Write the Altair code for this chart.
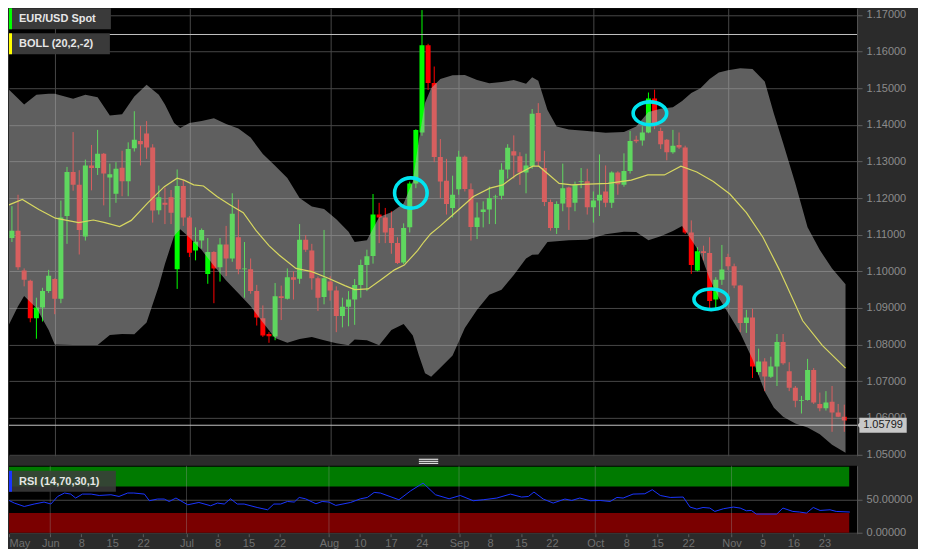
import altair as alt
import pandas as pd

# ---------------- data (daily candles, index k: 0 = 20 May 2015 ... 137 = 27 Nov 2015)
opens = [1.1151, 1.1091, 1.1111, 1.1002, 1.0974, 1.0872, 1.0901, 1.0946, 1.0979, 1.0925,
         1.1151, 1.1271, 1.1236, 1.1095, 1.1289, 1.1282, 1.1321, 1.1256, 1.1212, 1.1283,
         1.1246, 1.1336, 1.1356, 1.1376, 1.1338, 1.1167, 1.1187, 1.1202, 1.1006, 1.1233,
         1.1147, 1.1057, 1.1084, 1.0993, 1.1053, 1.1011, 1.1073, 1.1035, 1.1093, 1.1006,
         1.1006, 1.0946, 1.0872, 1.0829, 1.0822, 1.0932, 1.0925, 1.0984, 1.0980, 1.1086,
         1.1057, 1.0981, 1.0930, 1.0972, 1.0948, 1.0878, 1.0903, 1.0923, 1.0963, 1.1017,
         1.1042, 1.1155, 1.1147, 1.1118, 1.1077, 1.1024, 1.1120, 1.1240, 1.1379, 1.1617,
         1.1514, 1.1312, 1.1247, 1.1173, 1.1224, 1.1313, 1.1224, 1.1121, 1.1162, 1.1169,
         1.1202, 1.1206, 1.1278, 1.1328, 1.1314, 1.1270, 1.1287, 1.1432, 1.1282, 1.1189,
         1.1118, 1.1185, 1.1229, 1.1187, 1.1244, 1.1246, 1.1175, 1.1193, 1.1218, 1.1187,
         1.1270, 1.1236, 1.1274, 1.1359, 1.1357, 1.1379, 1.1472, 1.1383, 1.1359, 1.1325,
         1.1345, 1.1338, 1.1106, 1.1002, 1.1055, 1.1050, 1.0923, 1.0977, 1.1039, 1.1014,
         1.0961, 1.0859, 1.0874, 1.0725, 1.0754, 1.0712, 1.0740, 1.0807, 1.0727, 1.0682,
         1.0647, 1.0649, 1.0731, 1.0638, 1.0626, 1.0644, 1.0615, 1.0603]
highs = [1.1155, 1.1178, 1.1209, 1.1008, 1.0977, 1.0928, 1.0955, 1.1004, 1.0981, 1.1193,
         1.1285, 1.1380, 1.1276, 1.1305, 1.1345, 1.1386, 1.1323, 1.1294, 1.1298, 1.1329,
         1.1352, 1.1437, 1.1397, 1.1410, 1.1347, 1.1234, 1.1229, 1.1222, 1.1278, 1.1249,
         1.1151, 1.1120, 1.1117, 1.1091, 1.1055, 1.1091, 1.1124, 1.1213, 1.1196, 1.1080,
         1.1035, 1.0963, 1.0907, 1.0834, 1.0968, 1.0961, 1.1008, 1.1000, 1.1129, 1.1099,
         1.1075, 1.0986, 1.1113, 1.0987, 1.0959, 1.0928, 1.0946, 1.0979, 1.1032, 1.1059,
         1.1211, 1.1187, 1.1173, 1.1164, 1.1093, 1.1131, 1.1245, 1.1388, 1.1713, 1.1621,
         1.1559, 1.1361, 1.1307, 1.1261, 1.1329, 1.1316, 1.1240, 1.1188, 1.1191, 1.1231,
         1.1209, 1.1295, 1.1347, 1.1371, 1.1325, 1.1321, 1.1443, 1.1459, 1.1329, 1.1196,
         1.1191, 1.1294, 1.1231, 1.1245, 1.1282, 1.1280, 1.1218, 1.1319, 1.1289, 1.1273,
         1.1273, 1.1322, 1.1383, 1.1370, 1.1396, 1.1488, 1.1496, 1.1392, 1.1361, 1.1386,
         1.1379, 1.1343, 1.1139, 1.1066, 1.1070, 1.1093, 1.0984, 1.1072, 1.1048, 1.1021,
         1.0963, 1.0895, 1.0898, 1.0789, 1.0763, 1.0767, 1.0829, 1.0829, 1.0752, 1.0687,
         1.0660, 1.0761, 1.0736, 1.0669, 1.0673, 1.0687, 1.0638, 1.0636]
lows = [1.1057, 1.1080, 1.1004, 1.0959, 1.0861, 1.0816, 1.0863, 1.0941, 1.0883, 1.0913,
        1.1075, 1.1220, 1.1046, 1.1084, 1.1221, 1.1263, 1.1180, 1.1148, 1.1187, 1.1205,
        1.1205, 1.1327, 1.1289, 1.1307, 1.1133, 1.1155, 1.1129, 1.1129, 1.0952, 1.1124,
        1.1039, 1.1030, 1.1062, 1.0966, 1.0913, 1.0972, 1.0987, 1.1026, 1.0992, 1.0928,
        1.0939, 1.0852, 1.0821, 1.0805, 1.0812, 1.0867, 1.0923, 1.0923, 1.0966, 1.1053,
        1.0950, 1.0892, 1.0910, 1.0920, 1.0834, 1.0847, 1.0850, 1.0854, 1.0928, 1.0946,
        1.1021, 1.1077, 1.1077, 1.1048, 1.1020, 1.1020, 1.1106, 1.1227, 1.1370, 1.1495,
        1.1298, 1.1200, 1.1155, 1.1147, 1.1209, 1.1218, 1.1084, 1.1088, 1.1120, 1.1129,
        1.1129, 1.1196, 1.1253, 1.1253, 1.1236, 1.1213, 1.1280, 1.1285, 1.1178, 1.1111,
        1.1102, 1.1164, 1.1113, 1.1164, 1.1227, 1.1155, 1.1133, 1.1151, 1.1175, 1.1173,
        1.1209, 1.1231, 1.1267, 1.1350, 1.1343, 1.1377, 1.1388, 1.1334, 1.1303, 1.1321,
        1.1334, 1.1102, 1.0993, 1.1000, 1.1030, 1.0898, 1.0898, 1.0963, 1.1004, 1.0954,
        1.0834, 1.0832, 1.0709, 1.0718, 1.0673, 1.0709, 1.0687, 1.0745, 1.0673, 1.0629,
        1.0612, 1.0647, 1.0638, 1.0618, 1.0620, 1.0562, 1.0602, 1.0562]
closes = [1.1062, 1.1111, 1.1011, 1.0977, 1.0872, 1.0901, 1.0946, 1.0988, 1.0925, 1.1147,
          1.1271, 1.1236, 1.1113, 1.1289, 1.1282, 1.1321, 1.1267, 1.1265, 1.1280, 1.1246,
          1.1334, 1.1359, 1.1347, 1.1338, 1.1166, 1.1202, 1.1182, 1.1160, 1.1233, 1.1147,
          1.1051, 1.1081, 1.1113, 1.1053, 1.1008, 1.1073, 1.1035, 1.1157, 1.1006, 1.1008,
          1.0946, 1.0874, 1.0825, 1.0823, 1.0932, 1.0927, 1.0984, 1.0977, 1.1086, 1.1059,
          1.0981, 1.0928, 1.0981, 1.0948, 1.0878, 1.0903, 1.0923, 1.0963, 1.1017, 1.1041,
          1.1155, 1.1147, 1.1106, 1.1077, 1.1023, 1.1118, 1.1240, 1.1386, 1.1617, 1.1514,
          1.1312, 1.1245, 1.1184, 1.1209, 1.1313, 1.1225, 1.1121, 1.1147, 1.1169, 1.1200,
          1.1204, 1.1277, 1.1337, 1.1316, 1.1270, 1.1289, 1.1430, 1.1300, 1.1189, 1.1118,
          1.1184, 1.1227, 1.1175, 1.1236, 1.1246, 1.1175, 1.1193, 1.1209, 1.1187, 1.1270,
          1.1238, 1.1274, 1.1356, 1.1355, 1.1379, 1.1472, 1.1396, 1.1347, 1.1325, 1.1343,
          1.1338, 1.1106, 1.1017, 1.1055, 1.1050, 1.0919, 1.0977, 1.1005, 1.1014, 1.0961,
          1.0859, 1.0874, 1.0740, 1.0754, 1.0713, 1.0740, 1.0807, 1.0749, 1.0682, 1.0647,
          1.0649, 1.0731, 1.0642, 1.0626, 1.0642, 1.0615, 1.0603, 1.0593]

# Bollinger (20,2,-2)
band_k = [0, 2, 3, 5, 7, 8, 11, 13, 15, 17, 19, 21, 23, 25, 26, 27.5, 28.5, 30, 32, 34,
          36, 38, 40, 42, 44, 46, 48, 50, 52, 54, 56, 57, 59, 61, 63, 65, 66.5, 67.5, 68.5, 69.5,
          71, 73, 75, 77, 79, 81, 83, 85, 86, 87, 88.5, 90, 92, 95, 98, 101, 103, 105, 107, 109,
          110.5, 112, 113.5, 115, 116.5, 118, 120, 122, 124, 125.5, 127, 129, 131, 133, 135, 137.2]
band_upper = [1.1504, 1.1472, 1.1455, 1.1482, 1.1485, 1.1485, 1.1471, 1.1482, 1.1475, 1.1425,
              1.1429, 1.1477, 1.1509, 1.1482, 1.1455, 1.1405, 1.1391, 1.1405, 1.1410, 1.1418,
              1.1402, 1.1390, 1.1365, 1.1320, 1.1288, 1.1255, 1.1200, 1.1177, 1.1170, 1.1142,
              1.1108, 1.1080, 1.1085, 1.1148, 1.1161, 1.1185, 1.1245, 1.1360, 1.1460, 1.1500,
              1.1525, 1.1535, 1.1536, 1.1522, 1.1513, 1.1517, 1.1522, 1.1512, 1.1530, 1.1520,
              1.1440, 1.1395, 1.1387, 1.1383, 1.1378, 1.1380, 1.1395, 1.1435, 1.1444, 1.1448,
              1.1465, 1.1487, 1.1500, 1.1525, 1.1543, 1.1549, 1.1554, 1.1552, 1.1518, 1.1430,
              1.1350, 1.1240, 1.1120, 1.1058, 1.1008, 1.0965]
band_lower = [1.0837, 1.0905, 1.0933, 1.0900, 1.0840, 1.0800, 1.0799, 1.0799, 1.0799, 1.0826,
              1.0829, 1.0828, 1.0860, 1.0960, 1.1020, 1.1097, 1.1115, 1.1092, 1.1058, 1.1015,
              1.0975, 1.0940, 1.0905, 1.0860, 1.0818, 1.0805, 1.0815, 1.0821, 1.0812, 1.0804,
              1.0798, 1.0814, 1.0812, 1.0798, 1.0840, 1.0856, 1.0825, 1.0770, 1.0722, 1.0712,
              1.0737, 1.0770, 1.0845, 1.0895, 1.0936, 1.0950, 1.0990, 1.1035, 1.1045, 1.1046,
              1.1080, 1.1082, 1.1085, 1.1086, 1.1101, 1.1108, 1.1107, 1.1085, 1.1096, 1.1110,
              1.1124, 1.1086, 1.1048, 1.0980, 1.0928, 1.0887, 1.0832, 1.0760, 1.0672, 1.0628,
              1.0603, 1.0585, 1.0574, 1.0555, 1.0527, 1.0505]
mid_k = [0, 2.7, 5.4, 8.1, 11.9, 14.3, 16.2, 18.6, 20.5, 23.2, 25.9, 28, 29.1, 30.7, 32.3,
         34.5, 36.6, 38.8, 40.9, 43, 44.7, 47.4, 50, 52.7, 55.4, 57, 59.2, 61.3, 63.5, 65.1,
         67.3, 68.3, 69.4, 71, 73.7, 76.4, 79.1, 81.2, 83.4, 86.1, 87.1, 88.8, 90.4, 92.5, 95.2,
         98.4, 102.2, 104.9, 107.6, 110.3, 112.9, 115.6, 118.3, 121, 123.7, 126.4, 130.2, 133.4, 137.2]
mid_vals = [1.1178, 1.1196, 1.1169, 1.1145, 1.1133, 1.1140, 1.1133, 1.1122, 1.1139, 1.1187,
            1.1231, 1.1254, 1.1249, 1.1236, 1.1233, 1.1204, 1.1182, 1.1160, 1.1111, 1.1070,
            1.1044, 1.1008, 1.0999, 1.0981, 1.0961, 1.0950, 1.0952, 1.0977, 1.1004, 1.1017,
            1.1057, 1.1080, 1.1102, 1.1124, 1.1164, 1.1204, 1.1227, 1.1236, 1.1263, 1.1287,
            1.1287, 1.1263, 1.1240, 1.1236, 1.1238, 1.1240, 1.1249, 1.1263, 1.1263, 1.1287,
            1.1271, 1.1245, 1.1211, 1.1160, 1.1093, 1.1004, 1.0865, 1.0798, 1.0736]

# RSI (14,70,30,1)
rsi_k = [0, 1.1, 2.2, 3.8, 5.4, 7, 8.1, 9.2, 10.3, 11.3, 12.1, 13.2, 14.6, 15.9, 17.8, 19.1,
         20.5, 21.5, 23.2, 24, 25.3, 26.4, 27.2, 28.3, 30.2, 32, 33.9, 35, 36.1, 37.1, 38.2,
         39.3, 41.4, 43.1, 44.1, 45.2, 46.3, 47.4, 48.2, 49.2, 50.9, 51.9, 53, 54.1, 56.5,
         58.1, 59.2, 60.3, 61.3, 64.3, 66.2, 68.2, 70.2, 72.4, 74.2, 76.3, 77.9, 80.1, 82.3,
         84.1, 85.2, 86.1, 87.6, 89.2, 91.1, 92.2, 93.5, 95.2, 96.8, 98.4, 99.5, 100.5, 102.1,
         104, 105.2, 106.5, 108.1, 110.2, 111.3, 112.4, 113.4, 114.5, 115.3, 116.7, 118.3,
         119.4, 120.4, 121.2, 122, 125.3, 126.3, 127.9, 129, 130.1, 131.2, 132.3, 133.9, 134.9, 137.1]
rsi_vals = [51.1, 50, 45, 39.8, 43.5, 46.5, 43.5, 55, 60.2, 58.6, 52.6, 58.6, 58.6, 56.5, 57.6, 55,
            60.2, 60.2, 58.6, 48.5, 51.1, 51.1, 47.4, 52.6, 42.4, 45.9, 40.9, 45, 43.5, 51.5, 43.5,
            43.5, 38.3, 34.8, 43.5, 43.5, 47.4, 46.5, 53.5, 51.5, 43.9, 47.4, 46.5, 41.4, 45.9,
            51.5, 53.5, 61.1, 60.2, 50, 63.6, 75.3, 57.6, 51.5, 56.5, 48.5, 50, 52.6, 58.6,
            54.1, 55, 61.7, 51.1, 45, 51.1, 48.9, 52.6, 48.5, 48.9, 47.4, 53.5, 52.6, 58.6,
            59.1, 65.2, 56.5, 53.5, 54.1, 38.9, 35.9, 38.3, 37.4, 32.3, 36.4, 38.9,
            37.4, 33.3, 33.8, 28.3, 28.3, 37.4, 32.3, 31.4, 29.8, 38.3, 33.8, 34.8, 32.3, 31.4]

# axis ticks
tick_k = [1.34, 8, 13, 18, 23, 30, 35, 40, 45, 53, 58, 63, 68, 74, 79, 84, 89,
          96, 101, 106, 111, 118, 123, 128, 133]
tick_labels = ["May", "Jun", "8", "15", "22", "Jul", "8", "15", "22", "Aug", "10", "17", "24",
               "Sep", "8", "15", "22", "Oct", "8", "15", "22", "Nov", "9", "16", "23"]
month_k = [8, 30, 53, 74, 96, 118]
price_ticks = [1.05, 1.06, 1.07, 1.08, 1.09, 1.10, 1.11, 1.12, 1.13, 1.14, 1.15, 1.16, 1.17]
rsi_ticks = [0, 50]

last_price = 1.05799
high_line = 1.16464
ell_k = [66.18, 105.24, 115.24]
ell_price = [1.12138, 1.14313, 1.09237]

# ---------------- styles
FONT = "Liberation Sans"
BG = "#2b2b2b"
GRID = "#474747"
TICK = "#5e5e5e"
YLABEL = "#8c8c8c"
XLABEL = "#707070"
GREEN, RED = "#00ff00", "#ff0000"
CYAN = "#00e5f0"

W, H_MAIN, H_RSI = 849, 448, 68
xs = alt.Scale(domain=[1.339, 138.27], nice=False, zero=False)
ys = alt.Scale(domain=[1.04965, 1.17179], nice=False, zero=False)
rs = alt.Scale(domain=[-1.5, 101.5], nice=False, zero=False)
dir_scale = alt.Scale(domain=["up", "down"], range=[GREEN, RED])


def ellipse_path(ratio):
    c = 0.5523
    r = ratio
    return (f"M1,0 C1,{c*r:.4f} {c:.4f},{r:.4f} 0,{r:.4f} "
            f"C{-c:.4f},{r:.4f} -1,{c*r:.4f} -1,0 "
            f"C-1,{-c*r:.4f} {-c:.4f},{-r:.4f} 0,{-r:.4f} "
            f"C{c:.4f},{-r:.4f} 1,{-c*r:.4f} 1,0 Z")


ell_rx = [16.3, 16.8, 17.2]
ell_ratio = [0.93, 0.68, 0.60]

candles = pd.DataFrame({"k": list(range(len(opens))), "open": opens, "high": highs,
                        "low": lows, "close": closes})
candles["dir"] = ["up" if c >= o else "down" for o, c in zip(opens, closes)]
band_df = pd.DataFrame({"k": band_k, "upper": band_upper, "lower": band_lower})
mid_df = pd.DataFrame({"k": mid_k, "mid": mid_vals})
rsi_df = pd.DataFrame({"k": rsi_k, "rsi": rsi_vals})
lines_df = pd.DataFrame({"price": [high_line, last_price]})
ell_df = pd.DataFrame({"k": ell_k, "price": ell_price,
                       "shape": [ellipse_path(r) for r in ell_ratio],
                       "size": [(2 * rx) ** 2 for rx in ell_rx]})
lbl_df = pd.DataFrame({"price": [last_price], "text": [f"{last_price:.5f}"]})

main_x_axis = alt.Axis(values=month_k, grid=True, labels=False, ticks=False, domain=False,
                       gridColor=GRID, title=None)
main_y_axis = alt.Axis(orient="right", values=price_ticks, format=".5f", grid=True,
                       gridColor=GRID, tickSize=5, tickColor=TICK, labelPadding=4,
                       labelColor=YLABEL, labelFontSize=11, labelFont=FONT,
                       domain=True, domainColor="#555555", minExtent=61,
                       labelOverlap=False, title=None)


def MX(field="k"):
    return alt.X(f"{field}:Q", scale=xs, axis=main_x_axis)


def MY(field):
    return alt.Y(f"{field}:Q", scale=ys, axis=main_y_axis)


wicks = alt.Chart(candles).mark_rule(strokeWidth=1, clip=True).encode(
    x=MX(), y=MY("low"), y2="high:Q",
    color=alt.Color("dir:N", scale=dir_scale, legend=None))
bodies = alt.Chart(candles).mark_bar(size=5, clip=True).encode(
    x=MX(), y=MY("open"), y2="close:Q",
    color=alt.Color("dir:N", scale=dir_scale, legend=None))
mid = alt.Chart(mid_df).mark_line(color="#ffff00", strokeWidth=1.2, clip=True).encode(
    x=MX(), y=MY("mid"))
band = alt.Chart(band_df).mark_area(color="#b3b3b3", opacity=0.53, clip=True).encode(
    x=MX(), y=MY("upper"), y2="lower:Q")
hlines = alt.Chart(lines_df).mark_rule(color="#c2c2c2", strokeWidth=1, clip=True).encode(
    y=MY("price"))
ellipses = alt.Chart(ell_df).mark_point(filled=False, color=CYAN, strokeWidth=3.6,
                                         opacity=1).encode(
    x=MX(), y=MY("price"),
    shape=alt.Shape("shape:N", scale=None), size=alt.Size("size:Q", scale=None))
BOX_PATH = ("M-1.02,0 L-0.948,-0.1 L-0.948,-0.3 L0.948,-0.3 L0.948,0.3 "
            "L-0.948,0.3 L-0.948,0.1 Z")
lbl_box = alt.Chart(lbl_df).mark_point(shape=BOX_PATH, size=2500, filled=True,
                                        color="#c8c8c8", opacity=1).encode(
    x=alt.value(W + 26), y=MY("price"))
lbl_text = alt.Chart(lbl_df).mark_text(font=FONT, fontSize=11, color="#1a1a1a",
                                        align="center", baseline="middle").encode(
    x=alt.value(W + 26), y=MY("price"), text="text:N")


def legend_box(label, bar_color, y0, w, h=21, fill="#3a3a3a", opacity=1.0):
    base = alt.Chart(pd.DataFrame({"label": [label]}))
    box = base.mark_rect(color=fill, opacity=opacity).encode(
        x=alt.value(0), x2=alt.value(w), y=alt.value(y0), y2=alt.value(y0 + h))
    bar = base.mark_rect(color=bar_color).encode(
        x=alt.value(0), x2=alt.value(3), y=alt.value(y0), y2=alt.value(y0 + h))
    txt = base.mark_text(align="left", baseline="middle", font=FONT, fontSize=11,
                         fontWeight="bold", color="#e6e6e6").encode(
        x=alt.value(10), y=alt.value(y0 + h / 2 + 0.5), text="label:N")
    return [box, bar, txt]


main = alt.layer(
    wicks, bodies, mid, band, hlines, ellipses, lbl_box, lbl_text,
    *legend_box("EUR/USD Spot", GREEN, 0, 102),
    *legend_box("BOLL (20,2,-2)", "#ffff00", 25, 101),
).properties(width=W, height=H_MAIN)

# ---------------- RSI panel
expr = "".join(f"abs(datum.value - {v}) < 0.01 ? '{lab}' : "
               for v, lab in zip(tick_k, tick_labels)) + "''"
rsi_x_axis = alt.Axis(values=tick_k, labelExpr=expr, labelFlush=True, labelOverlap=False,
                      tickSize=3, tickColor=TICK, labelColor=XLABEL, labelFontSize=11,
                      labelFont=FONT, labelPadding=1, domain=False, grid=False, title=None)
rsi_y_axis = alt.Axis(orient="right", values=rsi_ticks, format=".5f", grid=True,
                      gridColor=GRID, tickSize=5, tickColor=TICK, labelPadding=4,
                      labelColor=YLABEL, labelFontSize=11, labelFont=FONT,
                      domain=True, domainColor="#555555", minExtent=61,
                      labelOverlap=False, title=None)


def RX(field="k"):
    return alt.X(f"{field}:Q", scale=xs, axis=rsi_x_axis)


def RY(field):
    return alt.Y(f"{field}:Q", scale=rs, axis=rsi_y_axis)


zones = pd.DataFrame({"start": [candles["k"].iloc[0]] * 2, "end": [candles["k"].iloc[-1]] * 2,
                      "lo": [70, 0], "hi": [100, 30], "fill": ["#007a00", "#7a0000"]})
zone = alt.Chart(zones).mark_rect(clip=True).encode(
    x=RX("start"), x2="end:Q", y=RY("lo"), y2="hi:Q",
    color=alt.Color("fill:N", scale=None))
vgrid = alt.Chart(pd.DataFrame({"k": month_k})).mark_rule(
    color="#9a9a9a", opacity=0.35, strokeWidth=1).encode(x=RX())
rsi_line = alt.Chart(rsi_df).mark_line(color="#1a35ff", strokeWidth=1, clip=True).encode(
    x=RX(), y=RY("rsi"))
SPLIT_PATH = "M-1,-0.21 L1,-0.21 M-1,0 L1,0 M-1,0.21 L1,0.21"
splitter = alt.Chart(pd.DataFrame({"a": [0]})).mark_point(
    shape=SPLIT_PATH, size=376, filled=False, color="#ffffff", strokeWidth=1,
    opacity=1).encode(x=alt.value(420), y=alt.value(-4.5))

rsi = alt.layer(
    zone, vgrid, rsi_line,
    *legend_box("RSI (14,70,30,1)", "#1a35ff", 5, 107, fill="#3c3c3c", opacity=0.85),
    splitter,
).properties(width=W, height=H_RSI)

chart = alt.vconcat(main, rsi, spacing=10, bounds="flush").properties(
    padding=0, background=BG
).configure_view(fill="#000000", strokeWidth=0)

chart.save("out.html", embed_options={"renderer": "svg", "actions": False})
